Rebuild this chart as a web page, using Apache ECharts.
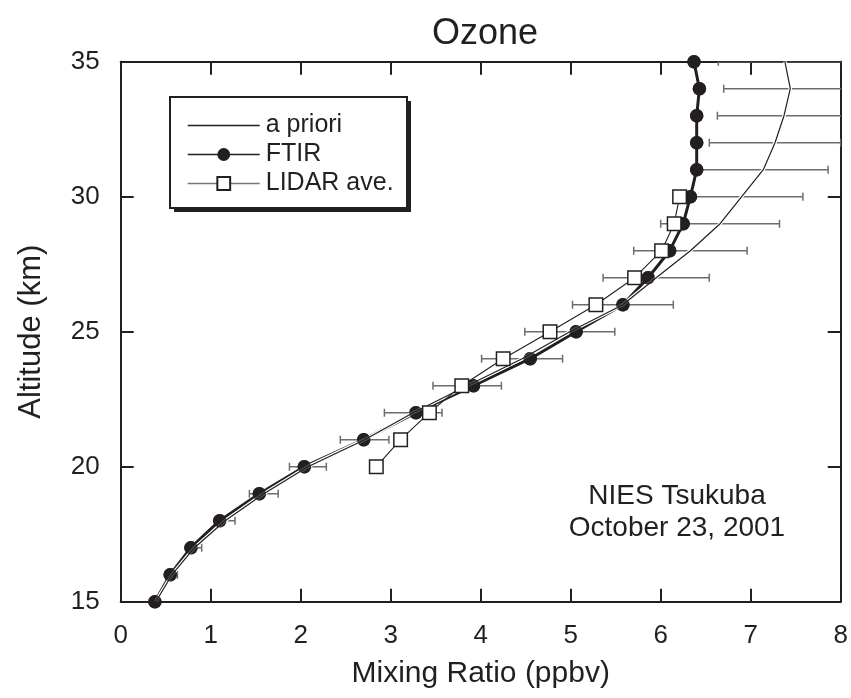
<!DOCTYPE html>
<html>
<head>
<meta charset="utf-8">
<script src="https://cdn.jsdelivr.net/npm/echarts@6/dist/echarts.min.js"></script>
<style>
  html, body { margin: 0; padding: 0; background: #fff; }
  #chart { width: 851px; height: 698px; }
</style>
</head>
<body>
<div id="chart"></div>
<script>
// Ozone vertical profile: altitude (km) vs mixing ratio (ppbv)
const altitudes = [15, 16, 17, 18, 19, 20, 21, 22, 23, 24, 25, 26, 27, 28, 29, 30, 31, 32, 33, 34, 35];
const ftir      = [0.38, 0.55, 0.78, 1.10, 1.54, 2.04, 2.70, 3.28, 3.92, 4.55, 5.06, 5.58, 5.86, 6.10, 6.25, 6.33, 6.40, 6.40, 6.40, 6.43, 6.37];
const apriori   = [0.39, 0.57, 0.82, 1.16, 1.59, 2.08, 2.71, 3.25, 3.85, 4.46, 4.99, 5.58, 5.95, 6.33, 6.66, 6.90, 7.14, 7.27, 7.37, 7.44, 7.38];
// half-width of the a priori uncertainty bars
const aprioriErr = [0.04, 0.06, 0.08, 0.11, 0.16, 0.205, 0.27, 0.32, 0.38, 0.45, 0.50, 0.56, 0.59, 0.63, 0.66, 0.68, 0.72, 0.73, 0.74, 0.74, 0.74];
const lidarAlt  = [20, 21, 22, 23, 24, 25, 26, 27, 28, 29, 30];
const lidar     = [2.84, 3.11, 3.43, 3.79, 4.25, 4.77, 5.28, 5.71, 6.01, 6.15, 6.21];
const xTicks = [0, 1, 2, 3, 4, 5, 6, 7, 8];
const yTicks = [15, 20, 25, 30, 35];

const FONT = "'Liberation Sans', Arial, sans-serif";
const INK = '#231f20';

const pairs = (xs, ys) => xs.map((v, i) => [v, ys[i]]);
const ftirData = pairs(ftir, altitudes);
const aprioriData = pairs(apriori, altitudes);
const lidarData = pairs(lidar, lidarAlt);
const errData = apriori.map((v, i) => [v, altitudes[i], aprioriErr[i]]);

const chart = echarts.init(document.getElementById('chart'), null, { renderer: 'canvas' });

// boxed frame: every side carries inward ticks
function axisBase(extra) {
  return Object.assign({
    type: 'value',
    gridIndex: 0,
    offset: 0,
    axisLine: { show: true, onZero: false, lineStyle: { color: INK, width: 2 } },
    axisTick: { show: true, inside: true, length: 13, lineStyle: { color: INK, width: 2 } },
    splitLine: { show: false }
  }, extra);
}

const option = {
  backgroundColor: '#fff',
  animation: false,
  title: {
    text: 'Ozone',
    left: 480, top: 11, textAlign: 'center',
    textStyle: { fontFamily: FONT, fontSize: 36, fontWeight: 'normal', color: INK }
  },
  grid: { left: 120.7, right: 10.3, top: 61.7, bottom: 96.3, containLabel: false },
  xAxis: [
    axisBase({
      min: xTicks[0], max: xTicks[xTicks.length - 1], interval: 1,
      position: 'bottom',
      name: 'Mixing Ratio (ppbv)', nameLocation: 'middle', nameGap: 57,
      nameTextStyle: { fontFamily: FONT, fontSize: 30, color: INK },
      axisLabel: { margin: 21, fontFamily: FONT, fontSize: 26, color: INK }
    }),
    axisBase({
      min: xTicks[0], max: xTicks[xTicks.length - 1], interval: 1,
      position: 'top', axisLabel: { show: false }
    })
  ],
  yAxis: [
    axisBase({
      min: yTicks[0], max: yTicks[yTicks.length - 1], interval: 5,
      position: 'left',
      name: 'Altitude (km)', nameLocation: 'middle', nameGap: 74, nameRotate: 90,
      nameTextStyle: { fontFamily: FONT, fontSize: 31, color: INK },
      axisLabel: { margin: 21, fontFamily: FONT, fontSize: 26, color: INK }
    }),
    axisBase({
      min: yTicks[0], max: yTicks[yTicks.length - 1], interval: 5,
      position: 'right', axisLabel: { show: false }
    })
  ],
  legend: {
    z: 60,
    orient: 'vertical',
    left: 187, top: 113, padding: 0,
    itemWidth: 72, itemHeight: 16, itemGap: 4,
    textStyle: { fontFamily: FONT, fontSize: 25, color: INK, padding: [0, 0, 0, 1] },
    data: [
      { name: 'a priori', lineStyle: { color: INK, width: 1.3 }, itemStyle: { color: 'rgba(0,0,0,0)', borderColor: 'rgba(0,0,0,0)', borderWidth: 0 } },
      { name: 'FTIR', lineStyle: { color: INK, width: 1.5 } },
      { name: 'LIDAR ave.', lineStyle: { color: '#777', width: 1.5 } }
    ]
  },
  graphic: [
    // legend frame with drop shadow
    { type: 'rect', z: 50, shape: { x: 174, y: 101, width: 237, height: 111 }, style: { fill: INK } },
    { type: 'rect', z: 51, shape: { x: 170, y: 97, width: 237, height: 111 }, style: { fill: '#fff', stroke: INK, lineWidth: 2 } },
    {
      type: 'text', z: 60, x: 677, y: 480,
      style: { text: 'NIES Tsukuba\nOctober 23, 2001', fontFamily: FONT, fontSize: 28, fill: INK, align: 'center', lineHeight: 32 }
    }
  ],
  series: [
    {
      // a priori uncertainty bars
      name: 'a priori range', type: 'custom', clip: true, z: 1,
      data: errData,
      encode: { x: 0, y: 1 },
      renderItem: function (params, api) {
        const xc = api.value(0), y = api.value(1), h = api.value(2);
        const p1 = api.coord([xc - h, y]);
        const p2 = api.coord([xc + h, y]);
        const c = 4;
        const st = { stroke: '#6d6d6d', lineWidth: 1.5 };
        return {
          type: 'group',
          children: [
            { type: 'line', shape: { x1: p1[0], y1: p1[1], x2: p2[0], y2: p2[1] }, style: st },
            { type: 'line', shape: { x1: p1[0], y1: p1[1] - c, x2: p1[0], y2: p1[1] + c }, style: st },
            { type: 'line', shape: { x1: p2[0], y1: p2[1] - c, x2: p2[0], y2: p2[1] + c }, style: st }
          ]
        };
      }
    },
    {
      name: 'FTIR', type: 'line', z: 2,
      data: ftirData,
      symbol: 'circle', symbolSize: 13.5, showSymbol: true,
      itemStyle: { color: INK },
      lineStyle: { color: INK, width: 3 }
    },
    {
      // white casing along the a priori profile
      name: 'a priori casing', type: 'line', z: 3,
      data: aprioriData, symbol: 'none', silent: true,
      lineStyle: { color: '#fff', width: 3.5 }
    },
    {
      name: 'a priori', type: 'line', z: 4,
      data: aprioriData, symbol: 'none',
      itemStyle: { color: INK },
      lineStyle: { color: INK, width: 1.2 }
    },
    {
      name: 'FTIR points', type: 'scatter', z: 5,
      data: ftirData, symbol: 'circle', symbolSize: 13.5,
      itemStyle: { color: INK }
    },
    {
      name: 'LIDAR ave.', type: 'line', z: 6,
      data: lidarData,
      symbol: 'rect', symbolSize: 13.5, showSymbol: true,
      itemStyle: { color: '#fff', borderColor: INK, borderWidth: 1.5 },
      lineStyle: { color: INK, width: 1.1 }
    }
  ]
};

chart.setOption(option);
</script>
</body>
</html>
